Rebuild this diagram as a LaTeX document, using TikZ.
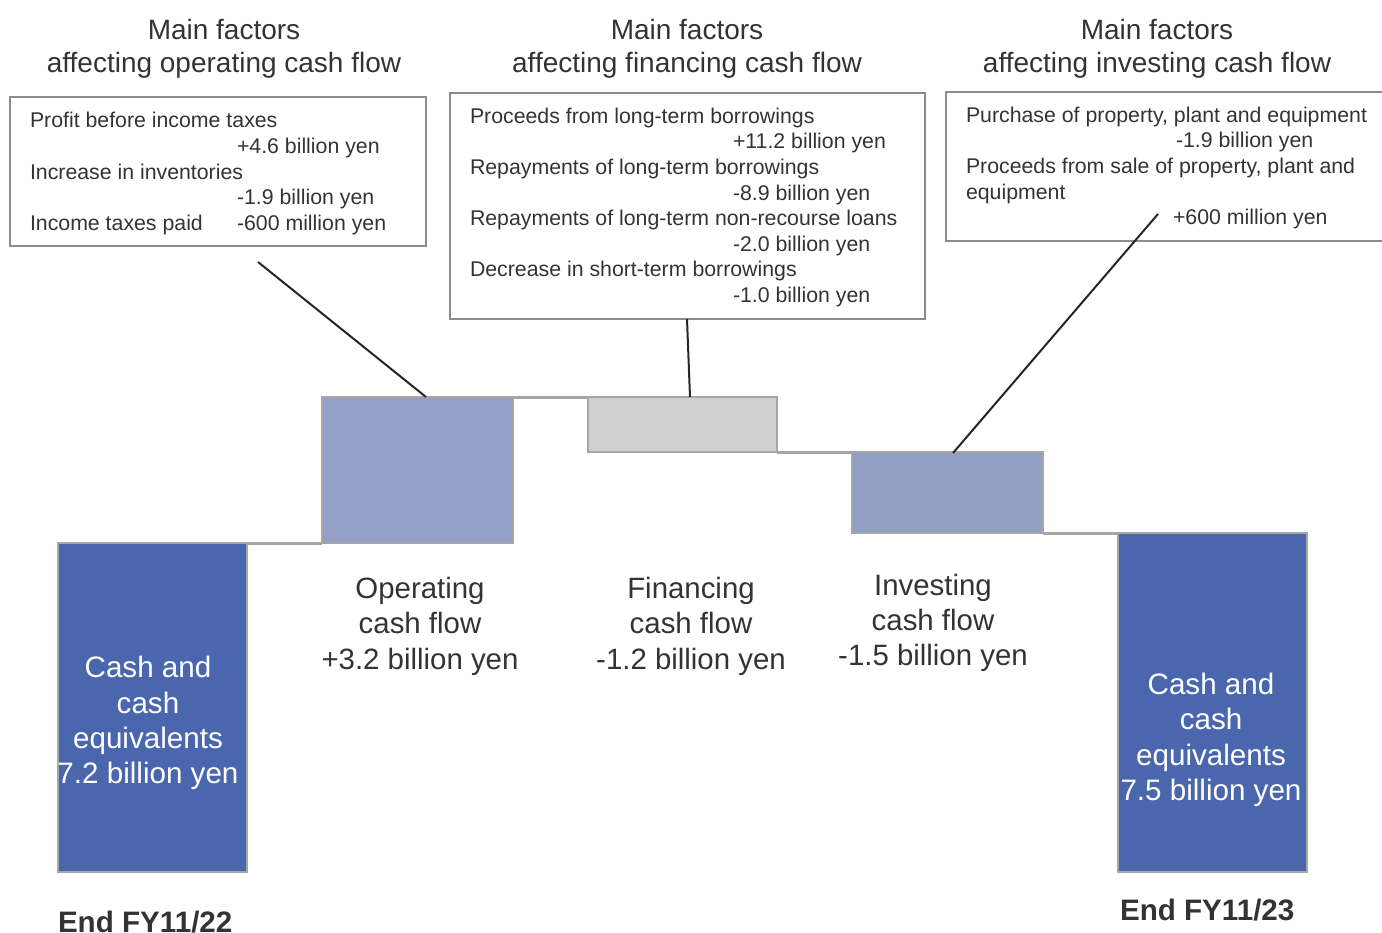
\documentclass[tikz,border=0pt]{standalone}
\usepackage{fontspec}
\setmainfont{Liberation Sans}
\definecolor{txt}{HTML}{333333}
\definecolor{darkbar}{HTML}{4A67AD}
\definecolor{opbar}{HTML}{95A0C8}
\definecolor{finbar}{HTML}{CFCFCF}
\definecolor{invbar}{HTML}{919FC5}
\definecolor{edge}{HTML}{A6A6A6}
\definecolor{boxedge}{HTML}{8C8C8C}
\begin{document}
\begin{tikzpicture}[x=1pt,y=-1pt,
  every node/.style={inner sep=0pt,outer sep=0pt,text=txt},
  title/.style={anchor=base,font=\fontsize{28}{30}\selectfont},
  small/.style={anchor=base west,font=\fontsize{21.3}{24}\selectfont},
  lbl/.style={anchor=base,font=\fontsize{29.4}{30}\selectfont},
  wlbl/.style={anchor=base,font=\fontsize{29.6}{30}\selectfont,text=white},
  endlbl/.style={anchor=base west,font=\fontsize{29.6}{30}\selectfont\bfseries,text=txt},
  factbox/.style={draw=boxedge,line width=1.5pt,anchor=north west},
  barbox/.style={draw=edge,line width=1.8pt,anchor=north west},
  step line/.style={draw=edge,line width=3pt},
  pointer/.style={draw=black!85,line width=2pt}]
\useasboundingbox (0,0) rectangle (1382,933);

% titles
\node[title] (t1a) at (224,40) {Main factors};
\node[title] (t1b) at (224,73) {affecting operating cash flow};
\node[title] (t2a) at (687,40) {Main factors};
\node[title] (t2b) at (687,73) {affecting financing cash flow};
\node[title] (t3a) at (1157,40) {Main factors};
\node[title] (t3b) at (1157,73) {affecting investing cash flow};

% factor boxes
\node[factbox,minimum width=416,minimum height=149] (opbox) at (10,97) {};
\node[factbox,minimum width=475,minimum height=226] (finbox) at (450,93) {};
\node[factbox,minimum width=450,minimum height=149] (invbox) at (946,92) {};

% operating texts
\node[small] (o1) at (30,128) {Profit before income taxes};
\node[small] (o2) at (237,154) {+4.6 billion yen};
\node[small] (o3) at (30,180) {Increase in inventories};
\node[small] (o4) at (237,205) {-1.9 billion yen};
\node[small] (o5) at (30,231) {Income taxes paid};
\node[small] (o6) at (237,231) {-600 million yen};

% financing texts
\node[small] (f1) at (470,124) {Proceeds from long-term borrowings};
\node[small] (f2) at (733,149) {+11.2 billion yen};
\node[small] (f3) at (470,175) {Repayments of long-term borrowings};
\node[small] (f4) at (733,201) {-8.9 billion yen};
\node[small] (f5) at (470,226) {Repayments of long-term non-recourse loans};
\node[small] (f6) at (733,252) {-2.0 billion yen};
\node[small] (f7) at (470,277) {Decrease in short-term borrowings};
\node[small] (f8) at (733,303) {-1.0 billion yen};

% investing texts
\node[small] (i1) at (966,123) {Purchase of property, plant and equipment};
\node[small] (i2) at (1176,148) {-1.9 billion yen};
\node[small] (i3) at (966,174) {Proceeds from sale of property, plant and};
\node[small] (i4) at (966,200) {equipment};
\node[small] (i5) at (1173,225) {+600 million yen};

% bars
\node[barbox,fill=darkbar,minimum width=189,minimum height=329] (b0) at (58,543) {};
\node[barbox,fill=opbar,minimum width=191,minimum height=146] (bop) at (322,397) {};
\node[barbox,fill=finbar,minimum width=189,minimum height=55] (bfin) at (588,397) {};
\node[barbox,fill=invbar,minimum width=191,minimum height=81] (binv) at (852,452) {};
\node[barbox,fill=darkbar,minimum width=189,minimum height=339] (b1) at (1118,533) {};

% step connectors
\draw[step line] (b0.north east) -- (bop.south west);
\draw[step line] (bop.north east) -- (bfin.north west);
\draw[step line] (bfin.south east) -- (binv.north west);
\draw[step line] (binv.south east) -- (b1.north west);

% pointers
\coordinate (p1) at (258,262);
\coordinate (q1) at (426,397);
\coordinate (p2) at (687,319);
\coordinate (q2) at (690,397);
\coordinate (p3) at (1158,214);
\coordinate (q3) at (953,453);
\draw[pointer] (p1) -- (q1);
\draw[pointer] (p2) -- (q2);
\draw[pointer] (p3) -- (q3);

% bar labels
\node[lbl] (l1a) at (420,598) {Operating};
\node[lbl] (l1b) at (420,633) {cash flow};
\node[lbl] (l1c) at (420,669) {+3.2 billion yen};
\node[lbl] (l2a) at (691,598) {Financing};
\node[lbl] (l2b) at (691,633) {cash flow};
\node[lbl] (l2c) at (691,669) {-1.2 billion yen};
\node[lbl] (l3a) at (933,595) {Investing};
\node[lbl] (l3b) at (933,630) {cash flow};
\node[lbl] (l3c) at (933,665) {-1.5 billion yen};

% cash labels
\node[wlbl] (c0a) at (148,677) {Cash and};
\node[wlbl] (c0b) at (148,713) {cash};
\node[wlbl] (c0c) at (148,748) {equivalents};
\node[wlbl] (c0d) at (148,783) {7.2 billion yen};
\node[wlbl] (c1a) at (1211,694) {Cash and};
\node[wlbl] (c1b) at (1211,729) {cash};
\node[wlbl] (c1c) at (1211,765) {equivalents};
\node[wlbl] (c1d) at (1211,800) {7.5 billion yen};

% end labels
\node[endlbl] (e0) at (58,932) {End FY11/22};
\node[endlbl] (e1) at (1120,920) {End FY11/23};
\end{tikzpicture}
\end{document}
